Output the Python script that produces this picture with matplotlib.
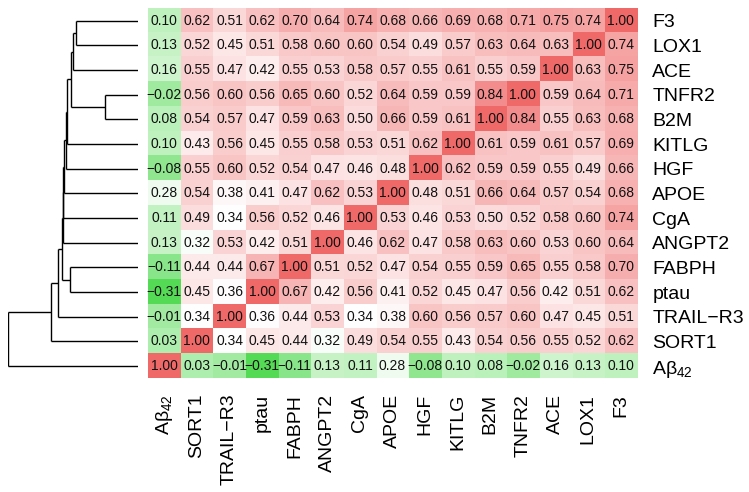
import numpy as np
import matplotlib
matplotlib.use("Agg")
import matplotlib.pyplot as plt
from matplotlib.colors import LinearSegmentedColormap

plt.rcParams["font.family"] = ["Liberation Sans", "DejaVu Sans"]
plt.rcParams["mathtext.fontset"] = "custom"
plt.rcParams["mathtext.rm"] = "Liberation Sans"
plt.rcParams["mathtext.it"] = "Liberation Sans:italic"

# rows top -> bottom, columns left -> right
row_labels = ["F3", "LOX1", "ACE", "TNFR2", "B2M", "KITLG", "HGF", "APOE",
              "CgA", "ANGPT2", "FABPH", "ptau", "TRAIL\u2212R3", "SORT1",
              "A\u03b2$_{42}$"]
col_labels = row_labels[::-1]

corr = np.array([
    [0.10, 0.62, 0.51, 0.62, 0.70, 0.64, 0.74, 0.68, 0.66, 0.69, 0.68, 0.71, 0.75, 0.74, 1.00],
    [0.13, 0.52, 0.45, 0.51, 0.58, 0.60, 0.60, 0.54, 0.49, 0.57, 0.63, 0.64, 0.63, 1.00, 0.74],
    [0.16, 0.55, 0.47, 0.42, 0.55, 0.53, 0.58, 0.57, 0.55, 0.61, 0.55, 0.59, 1.00, 0.63, 0.75],
    [-0.02, 0.56, 0.60, 0.56, 0.65, 0.60, 0.52, 0.64, 0.59, 0.59, 0.84, 1.00, 0.59, 0.64, 0.71],
    [0.08, 0.54, 0.57, 0.47, 0.59, 0.63, 0.50, 0.66, 0.59, 0.61, 1.00, 0.84, 0.55, 0.63, 0.68],
    [0.10, 0.43, 0.56, 0.45, 0.55, 0.58, 0.53, 0.51, 0.62, 1.00, 0.61, 0.59, 0.61, 0.57, 0.69],
    [-0.08, 0.55, 0.60, 0.52, 0.54, 0.47, 0.46, 0.48, 1.00, 0.62, 0.59, 0.59, 0.55, 0.49, 0.66],
    [0.28, 0.54, 0.38, 0.41, 0.47, 0.62, 0.53, 1.00, 0.48, 0.51, 0.66, 0.64, 0.57, 0.54, 0.68],
    [0.11, 0.49, 0.34, 0.56, 0.52, 0.46, 1.00, 0.53, 0.46, 0.53, 0.50, 0.52, 0.58, 0.60, 0.74],
    [0.13, 0.32, 0.53, 0.42, 0.51, 1.00, 0.46, 0.62, 0.47, 0.58, 0.63, 0.60, 0.53, 0.60, 0.64],
    [-0.11, 0.44, 0.44, 0.67, 1.00, 0.51, 0.52, 0.47, 0.54, 0.55, 0.59, 0.65, 0.55, 0.58, 0.70],
    [-0.31, 0.45, 0.36, 1.00, 0.67, 0.42, 0.56, 0.41, 0.52, 0.45, 0.47, 0.56, 0.42, 0.51, 0.62],
    [-0.01, 0.34, 1.00, 0.36, 0.44, 0.53, 0.34, 0.38, 0.60, 0.56, 0.57, 0.60, 0.47, 0.45, 0.51],
    [0.03, 1.00, 0.34, 0.45, 0.44, 0.32, 0.49, 0.54, 0.55, 0.43, 0.54, 0.56, 0.55, 0.52, 0.62],
    [1.00, 0.03, -0.01, -0.31, -0.11, 0.13, 0.11, 0.28, -0.08, 0.10, 0.08, -0.02, 0.16, 0.13, 0.10],
])

# dendrogram merges: (child a, child b, height); leaves are row indices,
# merged clusters get ids 15, 16, ...
merges = [
    (0, 1, 0.623), (15, 2, 0.647), (3, 4, 0.33), (16, 17, 0.67),
    (18, 5, 0.707), (19, 6, 0.725), (20, 7, 0.74), (21, 8, 0.747),
    (22, 9, 0.755), (10, 11, 0.68), (23, 24, 0.763), (25, 12, 0.797),
    (26, 13, 0.873), (27, 14, 1.297),
]

n = len(row_labels)
fig = plt.figure(figsize=(7.49, 4.92), dpi=100)

# heatmap
ax = fig.add_axes([0.1976, 0.2307, 0.6529, 0.7522])
cmap = LinearSegmentedColormap.from_list("gwr", ["#55DA55", "#FFFFFF", "#F06969"])
ax.imshow(corr, cmap=cmap, vmin=corr.min(), vmax=corr.max(), aspect="auto",
          interpolation="nearest")
for i in range(n):
    for j in range(n):
        s = f"{corr[i, j]:.2f}".replace("-", "\u2212")
        ax.text(j, i, s, ha="center", va="center", fontsize=10, color="#111111")
ax.set_xlim(-0.5, n - 0.5)
ax.set_ylim(n - 0.5, -0.5)
for sp in ax.spines.values():
    sp.set_visible(False)
ax.yaxis.tick_right()
ax.set_yticks(range(n))
ax.set_yticklabels(row_labels, fontsize=14)
ax.set_xticks(range(n))
ax.set_xticklabels(col_labels, fontsize=14, rotation=90)
ax.tick_params(length=0, pad=11)

# dendrogram
dax = fig.add_axes([0.0111, 0.2307, 0.1732, 0.7522])
pos = {i: float(i) for i in range(n)}
hgt = {i: 0.0 for i in range(n)}
for k, (a, b, h) in enumerate(merges):
    for c in (a, b):
        dax.plot([hgt[c], h], [pos[c], pos[c]], color="black", lw=1.0,
                 solid_capstyle="butt")
    dax.plot([h, h], [pos[a], pos[b]], color="black", lw=1.0,
             solid_capstyle="butt")
    pos[n + k] = (pos[a] + pos[b]) / 2
    hgt[n + k] = h
dax.set_xlim(merges[-1][2], 0)
dax.set_ylim(n - 0.5, -0.5)
dax.axis("off")

fig.savefig("out.png", dpi=100)
